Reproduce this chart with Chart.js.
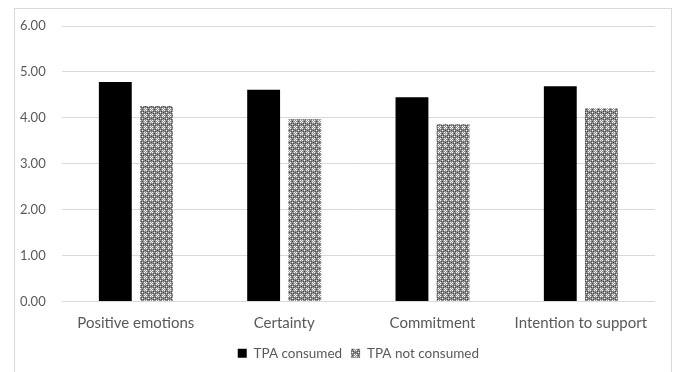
<!DOCTYPE html>
<html>
<head>
<meta charset="utf-8">
<script src="https://cdn.jsdelivr.net/npm/chart.js@4.4.0/dist/chart.umd.min.js"></script>
<style>
  body { margin: 0; background: #fff; }
  #frame { position: absolute; left: 14px; top: 8px; width: 656px; height: 400px; border: 1px solid #d9d9d9; }
  #wrap { position: absolute; left: 0; top: 0; width: 676px; height: 372px; }
</style>
</head>
<body>
<div id="frame"></div>
<div id="wrap"><canvas id="js--chart"></canvas></div>
<script>
const categories = ["Positive emotions", "Certainty", "Commitment", "Intention to support"];
const consumed = [4.78, 4.61, 4.45, 4.69];
const notConsumed = [4.26, 3.97, 3.86, 4.21];
const seriesNames = ["TPA consumed", "TPA not consumed"];

// little grey diamond texture for the second series
function makePattern(){
    const tile = document.createElement("canvas");
    tile.width = 6;
    tile.height = 6;
    const c = tile.getContext("2d");
    c.fillStyle = "#8c8c8c";
    c.fillRect(0, 0, 6, 6);
    c.fillStyle = "#ffffff";
    c.fillRect(0, 0, 1, 1);
    c.fillRect(2, 0, 1, 1);
    c.fillRect(1, 1, 1, 1);
    c.fillRect(0, 2, 1, 1);
    c.fillRect(2, 2, 1, 1);
    c.fillRect(4, 4, 1, 1);
    c.fillStyle = "#4a4a4a";
    c.fillRect(3, 3, 1, 1);
    c.fillRect(5, 3, 1, 1);
    c.fillRect(3, 5, 1, 1);
    c.fillRect(5, 5, 1, 1);
    c.fillRect(1, 4, 1, 1);
    c.fillRect(4, 1, 1, 1);
    return tile.getContext("2d").createPattern(tile, "repeat");
}

const pattern = makePattern();

const data = {
    labels: categories,
    datasets: [
        {
            label: seriesNames[0],
            data: consumed,
            backgroundColor: "#000000",
            categoryPercentage: 0.554,
            barPercentage: 0.8
        },
        {
            label: seriesNames[1],
            data: notConsumed,
            backgroundColor: pattern,
            categoryPercentage: 0.554,
            barPercentage: 0.8
        }
    ]
};

const config = {
    type: "bar",
    data: data,
    options: {
        responsive: true,
        maintainAspectRatio: false,
        animation: false,
        layout: { padding: { left: 4, right: 21, top: 26, bottom: 2 } },
        scales: {
            x: {
                grid: { display: false },
                border: { display: false },
                ticks: { color: "#595959", font: { family: "Lato", size: 15 }, padding: 5 }
            },
            y: {
                min: 0,
                max: 6,
                ticks: {
                    stepSize: 1,
                    color: "#595959",
                    padding: 16,
                    font: { family: "Lato", size: 13 },
                    callback: function(v){ return v.toFixed(2); }
                },
                grid: { color: "#d9d9d9", lineWidth: 1, drawTicks: false },
                border: { display: false }
            }
        },
        plugins: {
            legend: {
                position: "bottom",
                fullSize: false,
                labels: {
                    color: "#595959",
                    font: { family: "Lato", size: 13.5 },
                    boxWidth: 9,
                    boxHeight: 9,
                    padding: 9
                }
            },
            tooltip: { enabled: false }
        }
    }
};

new Chart(document.getElementById("js--chart"), config);
</script>
</body>
</html>
